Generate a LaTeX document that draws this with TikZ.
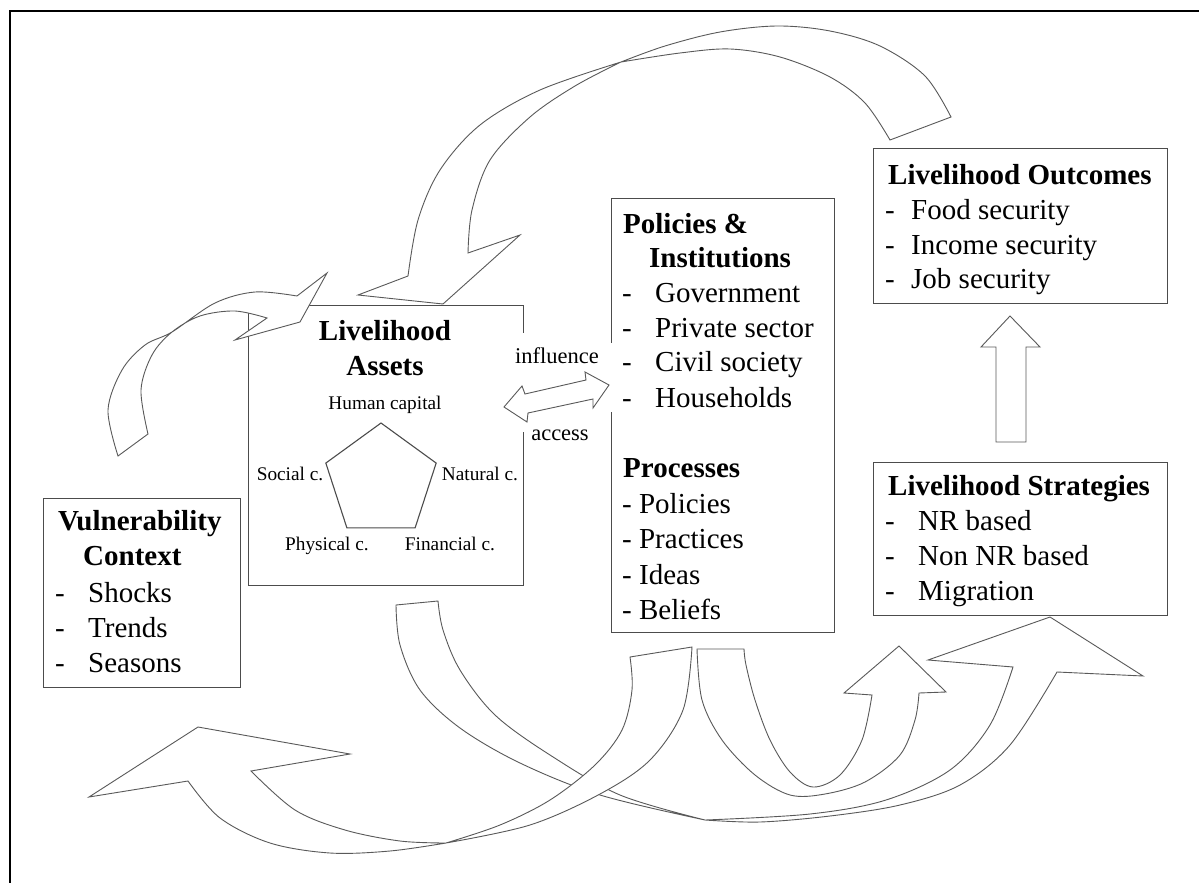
\documentclass[tikz,border=0pt]{standalone}
\usepackage{fontspec}
\setmainfont{Liberation Serif}
\usetikzlibrary{shapes.geometric}
\newcommand\dashitem[2]{\makebox[#1][l]{-}#2}
\begin{document}
\begin{tikzpicture}[x=1pt,y=-1pt,
  box/.style={draw=black!70, line width=1.2pt, inner sep=0pt, anchor=north west},
  txt/.style={inner sep=0pt, anchor=base west, font=\fontsize{29}{34.5}\selectfont},
  ttl/.style={inner sep=0pt, anchor=base west, font=\fontsize{29}{34.5}\selectfont\bfseries},
  ttlc/.style={inner sep=0pt, anchor=base, font=\fontsize{29}{34.5}\selectfont\bfseries},
  sm/.style={inner sep=0pt, anchor=base, font=\fontsize{19.3}{22}\selectfont},
  lbl/.style={inner sep=0pt, anchor=base, font=\fontsize{22.5}{26}\selectfont},
  blk/.style={draw=black!65, line width=0.9pt, fill=white, line join=miter},
  pent/.style={draw=black!70, line width=1.1pt, regular polygon, regular polygon sides=5, minimum size=116pt, inner sep=0pt}
]
\useasboundingbox (0,0) rectangle (1199,883);

% frame
\draw[line width=2.2pt] (10,883) -- (10,11) -- (1199,11);

% boxes
\node[box, minimum width=275pt, minimum height=280pt] (assets) at (248,305) {};
\node[box, minimum width=223pt, minimum height=434pt] (policies) at (611,198) {};
\node[box, minimum width=294pt, minimum height=155pt] (outcomes) at (873,148) {};
\node[box, minimum width=294pt, minimum height=153pt] (strategies) at (873,462) {};
\node[box, minimum width=197pt, minimum height=189pt] (vuln) at (43,498) {};

% gaps in box edges behind the influence/access arrow
\fill[white] (518,333) rectangle (528,432);
\fill[white] (606,343) rectangle (616,412);

% Arrow D: assets -> strategies (big lower arrow)
\draw[blk] (396,605) -- plot[smooth, tension=0.55] coordinates {(396,605) (400,645) (420,690) (460,728) (520,763) (600,795) (705,820)}
  -- plot[smooth, tension=0.55] coordinates {(705,820) (760,822) (830,816) (900,805) (960,785) (1010,745) (1057,672)}
  -- (1143,676) -- (1050,617) -- (928,660) -- (1013,667)
  -- plot[smooth, tension=0.55] coordinates {(1013,667) (990,725) (950,770) (886,800) (810,814) (705,820)}
  -- plot[smooth, tension=0.55] coordinates {(705,820) (620,795) (550,755) (495,715) (460,670) (443,630) (438,601)}
  -- cycle;

% Arrow C: policies -> vulnerability (lower-left arrow)
\draw[blk] (630,657) -- plot[smooth, tension=0.55] coordinates {(630,657) (632,690) (622,730) (595,765) (550,800) (500,825) (446,843)}
  -- plot[smooth, tension=0.55] coordinates {(446,843) (400,841) (345,830) (295,810) (251,771)}
  -- (350,754) -- (198,727) -- (89,797) -- (188,781)
  -- plot[smooth, tension=0.55] coordinates {(188,781) (220,818) (270,843) (330,853) (390,851) (446,843)}
  -- plot[smooth, tension=0.55] coordinates {(446,843) (530,825) (600,794) (650,760) (683,710) (692,647)}
  -- cycle;

% Arrow E: policies -> strategies (U arrow)
\draw[blk] (697,649) -- plot[smooth, tension=0.55] coordinates {(697,649) (702,700) (722,740) (755,775) (790,795) (825,794) (865,782) (900,755) (915,720) (919,693)}
  -- (946,692) -- (899,646) -- (844,693) -- (872,695)
  -- plot[smooth, tension=0.55] coordinates {(872,695) (862,740) (840,775) (813,787) (790,772) (770,740) (755,700) (746,665) (744,649)}
  -- cycle;

% Arrow A: outcomes -> assets (top arrow)
\draw[blk] (890,140) -- (951,117)
  -- plot[smooth, tension=0.55] coordinates {(951,117) (925,76) (880,46) (830,31) (777,26) (720,32) (665,46) (621,62)}
  -- plot[smooth, tension=0.55] coordinates {(621,62) (540,90) (480,125) (440,170) (418,220) (408,276)}
  -- (358,295) -- (443,304) -- (520,235) -- (468,253)
  -- plot[smooth, tension=0.55] coordinates {(468,253) (472,210) (490,160) (530,117) (575,86) (621,62)}
  -- plot[smooth, tension=0.55] coordinates {(621,62) (680,53) (730,49) (780,57) (830,77) (865,103) (890,140)}
  -- cycle;

% Arrow B: vulnerability -> assets (small arrow)
\draw[blk] (118,456) -- plot[smooth, tension=0.55] coordinates {(118,456) (108,410) (122,370) (145,345) (172,332) (215,303) (255,292) (297,296)}
  -- (327,273) -- (300,322) -- (235,340) -- (267,318)
  -- plot[smooth, tension=0.55] coordinates {(267,318) (235,311) (200,316) (172,332) (152,355) (141,390) (148,434)}
  -- cycle;

% influence / access double arrow
\draw[blk] (504,407) -- (522,386) -- (525,394) -- (586,380) -- (585,372) -- (609,385) -- (593,408) -- (593,399) -- (528,413) -- (527,422) -- cycle;

% strategies -> outcomes up arrow
\draw[blk] (996,442) -- (996,347) -- (981,347) -- (1010,316) -- (1040,347) -- (1026,347) -- (1026,442) -- cycle;

% Livelihood Assets content
\node[ttlc] (aT1) at (385,340) {Livelihood};
\node[ttlc] (aT2) at (385,375) {Assets};
\node[sm] (hum) at (385,409) {Human capital};
\node[pent] (pentagon) at (381,481) {};
\node[sm] (soc) at (290,480) {Social c.};
\node[sm] (nat) at (480,480) {Natural c.};
\node[sm] (phy) at (327,550) {Physical c.};
\node[sm] (fin) at (450,550) {Financial c.};
\node[lbl] (infl) at (557,363) {influence};
\node[lbl] (acc) at (560,440) {access};

% Policies & Institutions content
\node[ttl] (pT1) at (623,233) {Policies \&};
\node[ttl] (pT2) at (649,267) {Institutions};
\node[txt] (p1) at (622,302) {\dashitem{33pt}{Government}};
\node[txt] (p2) at (622,337) {\dashitem{33pt}{Private sector}};
\node[txt] (p3) at (622,371) {\dashitem{33pt}{Civil society}};
\node[txt] (p4) at (622,407) {\dashitem{33pt}{Households}};
\node[ttl] (pT3) at (623,477) {Processes};
\node[txt] (p5) at (622,513) {- Policies};
\node[txt] (p6) at (622,548) {- Practices};
\node[txt] (p7) at (622,584) {- Ideas};
\node[txt] (p8) at (622,619) {- Beliefs};

% Outcomes content
\node[ttl] (oT) at (888,184) {Livelihood Outcomes};
\node[txt] (o1) at (885,219) {\dashitem{26pt}{Food security}};
\node[txt] (o2) at (885,254) {\dashitem{26pt}{Income security}};
\node[txt] (o3) at (885,288) {\dashitem{26pt}{Job security}};

% Strategies content
\node[ttl] (sT) at (888,495) {Livelihood Strategies};
\node[txt] (s1) at (885,530) {\dashitem{33pt}{NR based}};
\node[txt] (s2) at (885,565) {\dashitem{33pt}{Non NR based}};
\node[txt] (s3) at (885,600) {\dashitem{33pt}{Migration}};

% Vulnerability content
\node[ttl] (vT1) at (58,530) {Vulnerability};
\node[ttl] (vT2) at (83,565) {Context};
\node[txt] (v1) at (55,602) {\dashitem{33pt}{Shocks}};
\node[txt] (v2) at (55,637) {\dashitem{33pt}{Trends}};
\node[txt] (v3) at (55,672) {\dashitem{33pt}{Seasons}};
\end{tikzpicture}
\end{document}
